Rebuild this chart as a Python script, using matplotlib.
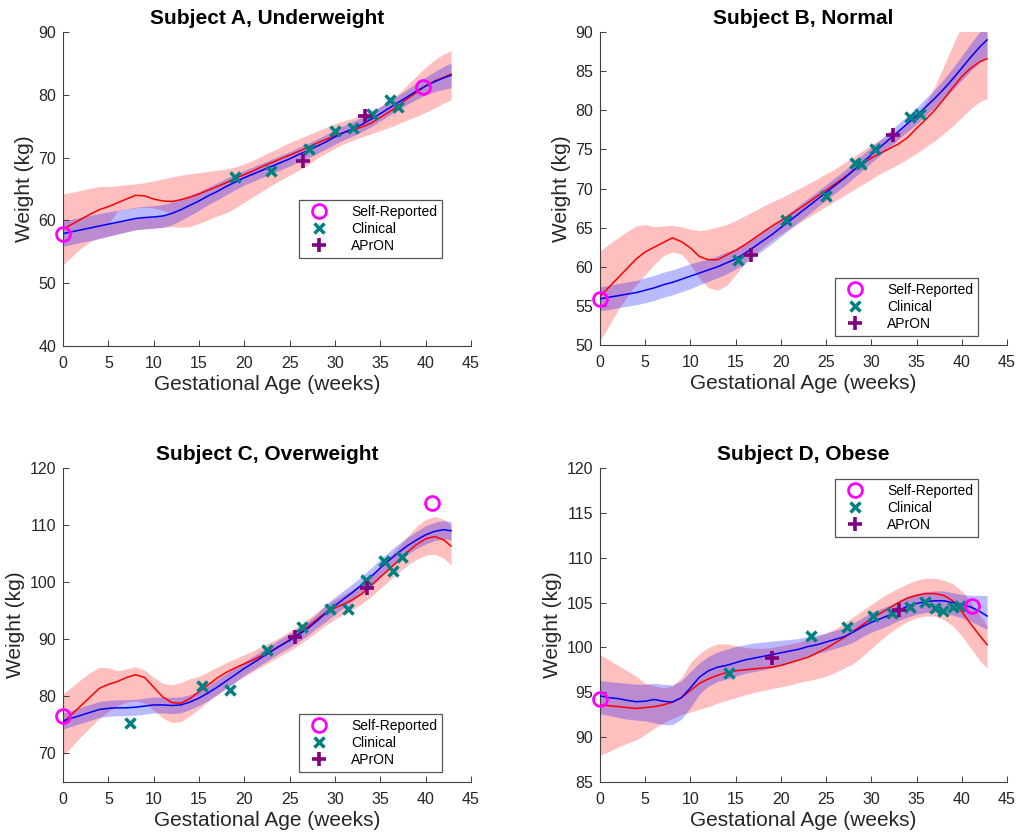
import numpy as np
import matplotlib
matplotlib.use("Agg")
import matplotlib.pyplot as plt

plt.rcParams["font.family"] = ["Liberation Sans", "DejaVu Sans"]

# gestational age grid shared by all fitted curves (weeks)
weeks = list(range(0, 43)) + [42.8]

# ---- Subject A ----
a_red = [58.6, 59.4, 60.2, 61.0, 61.7, 62.2, 62.8, 63.4, 64.0, 63.9, 63.4, 63.1, 63.0, 63.3, 63.7,
         64.2, 64.8, 65.4, 66.0, 66.7, 67.3, 67.9, 68.6, 69.2, 69.8, 70.4, 71.0, 71.6, 72.3, 72.9,
         73.5, 74.0, 74.4, 74.9, 75.5, 76.4, 77.3, 78.3, 79.4, 80.4, 81.4, 82.2, 82.8, 83.3]
a_red_lo = [52.9, 54.3, 55.6, 56.6, 57.2, 57.5, 57.85, 58.2, 58.5, 58.65, 58.75, 58.9, 59.0, 58.9, 59.0,
            59.5, 60.1, 60.7, 61.2, 62.0, 62.9, 63.8, 64.7, 65.6, 66.4, 67.2, 68.0, 68.8, 69.9, 70.7,
            71.5, 72.2, 72.8, 73.3, 73.8, 74.3, 74.8, 75.4, 76.0, 76.6, 77.2, 77.9, 78.7, 79.2]
a_red_hi = [64.2, 64.5, 64.8, 65.1, 65.4, 65.4, 65.5, 65.7, 65.8, 66.0, 66.3, 66.6, 66.9, 67.2, 67.4,
            67.6, 67.8, 68.0, 68.2, 68.5, 69.0, 69.6, 70.3, 71.0, 71.7, 72.4, 73.0, 73.6, 74.2, 74.8,
            75.4, 75.9, 76.3, 76.8, 77.4, 78.1, 79.0, 80.2, 81.6, 83.0, 84.4, 85.6, 86.5, 87.0]
a_blue = [57.9, 58.2, 58.5, 58.8, 59.1, 59.4, 59.7, 60.0, 60.3, 60.45, 60.55, 60.7, 61.1, 61.7, 62.4,
          63.1, 63.9, 64.6, 65.4, 66.1, 66.8, 67.4, 68.0, 68.6, 69.2, 69.8, 70.5, 71.1, 71.8, 72.5,
          73.3, 74.0, 74.6, 75.3, 76.1, 77.0, 77.9, 78.8, 79.7, 80.6, 81.4, 82.1, 82.7, 83.1]
a_blue_lo = [55.9, 56.2, 56.5, 56.8, 57.1, 57.45, 57.8, 58.15, 58.5, 58.65, 58.75, 58.9, 59.3, 60.0, 60.8,
             61.6, 62.5, 63.25, 64.1, 64.9, 65.65, 66.25, 66.85, 67.45, 68.05, 68.65, 69.35, 69.95, 70.65, 71.35,
             72.15, 72.85, 73.45, 74.15, 74.95, 75.85, 76.75, 77.65, 78.5, 79.3, 80.0, 80.5, 80.9, 81.1]
a_blue_hi = [59.9, 60.2, 60.5, 60.8, 61.1, 61.35, 61.6, 61.85, 62.1, 62.25, 62.35, 62.5, 62.9, 63.4, 64.0,
             64.6, 65.3, 65.95, 66.7, 67.3, 67.95, 68.55, 69.15, 69.75, 70.35, 70.95, 71.65, 72.25, 72.95, 73.65,
             74.45, 75.15, 75.75, 76.45, 77.25, 78.15, 79.05, 79.95, 80.9, 81.9, 82.8, 83.7, 84.5, 85.1]
# gap inside the red band of subject A
a_gap_x = [5, 6, 7, 8, 9, 10, 11, 12]
a_gap_lo = [59.4, 59.7, 60.0, 60.3, 60.45, 60.55, 60.7, 61.1]
a_gap_hi = [59.4, 61.5, 61.8, 62.0, 62.1, 62.0, 61.6, 61.1]
a_self_x = [0, 39.7]
a_self_y = [57.8, 81.3]
a_clin_x = [19.0, 22.9, 27.1, 30.0, 32.0, 34.1, 36.1, 37.0]
a_clin_y = [66.9, 67.8, 71.3, 74.3, 74.7, 77.0, 79.2, 78.0]
a_apron_x = [26.5, 33.3]
a_apron_y = [69.5, 76.6]

# ---- Subject B ----
b_red = [56.2, 57.4, 58.6, 59.8, 61.0, 61.9, 62.5, 63.1, 63.7, 63.2, 62.4, 61.3, 60.9, 60.9, 61.5,
         62.1, 62.8, 63.6, 64.4, 65.2, 65.9, 66.6, 67.4, 68.2, 69.0, 69.8, 70.6, 71.4, 72.3, 73.1,
         73.9, 74.5, 75.1, 75.7, 76.5, 77.7, 78.8, 80.0, 81.4, 82.9, 84.3, 85.4, 86.2, 86.6]
b_red_lo = [50.5, 52.5, 54.5, 56.2, 57.7, 59.0, 60.3, 61.4, 61.9, 61.6, 60.3, 58.5, 57.3, 57.0, 57.6,
            59.0, 60.4, 61.5, 62.5, 63.4, 64.2, 64.9, 65.6, 66.3, 67.0, 67.7, 68.4, 69.1, 69.8, 70.5,
            71.2, 71.9, 72.5, 73.1, 73.8, 74.5, 75.3, 76.1, 77.0, 78.0, 79.1, 80.2, 81.1, 81.5]
b_red_hi = [62.0, 62.9, 63.7, 64.5, 65.2, 65.4, 65.1, 65.2, 65.3, 65.1, 64.8, 64.6, 64.8, 65.1, 65.4,
            65.9, 66.5, 67.1, 67.7, 68.3, 68.8, 69.4, 70.0, 70.6, 71.2, 71.9, 72.5, 73.3, 74.0, 74.8,
            75.6, 76.2, 76.8, 77.4, 78.3, 79.4, 80.9, 83.0, 85.6, 88.3, 90.8, 92.5, 93.5, 94.0]
b_blue = [55.9, 56.1, 56.3, 56.5, 56.7, 57.0, 57.3, 57.7, 58.0, 58.4, 58.8, 59.2, 59.6, 60.0, 60.5,
          61.0, 61.7, 62.5, 63.3, 64.1, 65.0, 65.9, 66.8, 67.7, 68.6, 69.5, 70.4, 71.3, 72.3, 73.3,
          74.3, 75.3, 76.3, 77.3, 78.3, 79.3, 80.4, 81.5, 82.7, 84.0, 85.4, 86.8, 88.1, 89.0]
b_blue_lo = [54.4, 54.55, 54.75, 54.95, 55.15, 55.4, 55.7, 56.1, 56.4, 56.8, 57.2, 57.7, 58.15, 58.6, 59.1,
             59.7, 60.45, 61.3, 62.1, 62.95, 63.9, 64.8, 65.75, 66.65, 67.6, 68.5, 69.4, 70.3, 71.3, 72.3,
             73.3, 74.3, 75.3, 76.3, 77.3, 78.25, 79.3, 80.35, 81.45, 82.6, 83.85, 85.05, 86.15, 86.9]
b_blue_hi = [57.4, 57.65, 57.85, 58.05, 58.25, 58.6, 58.9, 59.3, 59.6, 60.0, 60.4, 60.7, 61.05, 61.4, 61.9,
             62.3, 62.95, 63.7, 64.5, 65.25, 66.1, 67.0, 67.85, 68.75, 69.6, 70.5, 71.4, 72.3, 73.3, 74.3,
             75.3, 76.3, 77.3, 78.3, 79.3, 80.35, 81.5, 82.65, 83.95, 85.4, 86.95, 88.55, 90.05, 91.1]
b_self_x = [0]
b_self_y = [55.9]
b_clin_x = [15.3, 20.6, 25.0, 28.2, 28.9, 30.4, 34.3, 35.4]
b_clin_y = [60.8, 66.0, 69.0, 73.2, 73.1, 75.0, 79.1, 79.5]
b_apron_x = [16.7, 32.4]
b_apron_y = [61.5, 76.9]

# ---- Subject C ----
c_red = [75.4, 76.9, 78.4, 79.9, 81.4, 82.1, 82.6, 83.3, 83.8, 83.3, 81.6, 79.9, 78.9, 78.8, 79.6,
         80.8, 82.0, 83.2, 84.2, 85.0, 85.7, 86.4, 87.2, 88.0, 88.9, 89.9, 91.0, 92.2, 93.5, 94.7,
         95.5, 96.2, 97.0, 98.0, 99.4, 100.9, 102.3, 103.8, 105.3, 106.6, 107.6, 108.0, 107.4, 106.3]
c_red_lo = [69.6, 71.3, 73.0, 74.6, 76.1, 77.4, 78.4, 79.0, 79.2, 78.8, 77.6, 76.2, 75.4, 75.6, 76.6,
            77.8, 79.1, 80.3, 81.4, 82.5, 83.5, 84.4, 85.3, 86.2, 87.1, 88.0, 89.0, 90.1, 91.3, 92.5,
            93.5, 94.4, 95.3, 96.3, 97.5, 98.9, 100.3, 101.7, 103.0, 104.0, 104.7, 104.9, 104.2, 103.0]
c_red_hi = [80.4, 81.7, 83.0, 84.2, 85.1, 85.0, 84.5, 84.8, 85.2, 84.6, 83.3, 82.3, 82.0, 82.4, 83.1,
            83.5, 84.3, 85.1, 85.9, 86.6, 87.3, 88.0, 88.8, 89.6, 90.4, 91.4, 92.4, 93.5, 94.8, 96.0,
            97.0, 97.9, 98.8, 99.8, 101.2, 102.9, 104.5, 106.2, 108.0, 109.8, 111.0, 111.5, 111.0, 110.0]
c_blue = [75.7, 76.2, 76.7, 77.2, 77.7, 77.9, 78.0, 78.0, 78.1, 78.3, 78.5, 78.5, 78.4, 78.5, 79.0,
          79.7, 80.6, 81.6, 82.7, 83.8, 84.9, 85.9, 86.9, 87.9, 88.9, 89.8, 90.8, 91.9, 93.2, 94.6,
          95.9, 97.1, 98.3, 99.6, 101.0, 102.5, 103.9, 105.2, 106.4, 107.4, 108.3, 108.9, 109.2, 109.0]
c_blue_lo = [74.3, 74.8, 75.3, 75.8, 76.3, 76.5, 76.6, 76.6, 76.7, 76.9, 77.1, 77.1, 77.0, 77.1, 77.7,
             78.4, 79.3, 80.3, 81.4, 82.5, 83.7, 84.7, 85.7, 86.7, 87.7, 88.6, 89.6, 90.7, 92.0, 93.1,
             94.4, 95.6, 96.8, 98.1, 99.5, 101.0, 102.4, 103.7, 104.9, 105.9, 106.7, 107.3, 107.6, 107.4]
c_blue_hi = [77.1, 77.6, 78.1, 78.6, 79.1, 79.3, 79.4, 79.4, 79.5, 79.7, 79.9, 79.9, 79.8, 79.9, 80.3,
             81.0, 81.9, 82.9, 84.0, 85.1, 86.1, 87.1, 88.1, 89.1, 90.1, 91.0, 92.0, 93.1, 94.4, 96.1,
             97.4, 98.6, 99.8, 101.1, 102.5, 104.0, 105.4, 106.7, 107.9, 108.9, 109.9, 110.5, 110.8, 110.6]
c_self_x = [0, 40.7]
c_self_y = [76.6, 113.8]
c_clin_x = [7.4, 15.3, 18.4, 22.5, 26.4, 29.45, 31.4, 33.4, 35.4, 36.4, 37.4]
c_clin_y = [75.3, 81.8, 81.2, 88.2, 92.2, 95.3, 95.3, 100.3, 103.7, 102.0, 104.4]
c_apron_x = [25.6, 33.5]
c_apron_y = [90.4, 99.0]

# ---- Subject D ----
d_red = [93.6, 93.5, 93.4, 93.3, 93.2, 93.3, 93.4, 93.6, 93.9, 94.4, 95.2, 96.0, 96.5, 96.9, 97.2,
         97.4, 97.5, 97.6, 97.7, 97.8, 98.0, 98.3, 98.6, 98.9, 99.4, 99.9, 100.5, 101.1, 101.8, 102.5,
         103.2, 103.8, 104.4, 105.0, 105.5, 105.8, 106.0, 106.0, 105.8, 105.2, 104.0, 102.6, 101.3, 100.3]
d_red_lo = [88.0, 88.4, 88.9, 89.3, 89.7, 90.3, 91.0, 91.6, 92.1, 92.5, 92.8, 93.1, 93.4, 93.8, 94.1,
            94.4, 94.7, 95.0, 95.2, 95.4, 95.6, 95.8, 96.1, 96.3, 96.5, 96.8, 97.2, 97.7, 98.2, 99.0,
            99.9, 100.8, 101.6, 102.3, 102.9, 103.3, 103.5, 103.5, 103.1, 102.4, 101.3, 99.9, 98.5, 97.7]
d_red_hi = [99.2, 98.6, 98.0, 97.4, 96.8, 96.0, 95.7, 95.5, 95.7, 96.6, 98.3, 99.3, 100.0, 100.4, 100.4,
            100.2, 100.0, 99.9, 99.9, 100.0, 100.2, 100.4, 100.6, 100.9, 101.2, 101.6, 102.1, 102.7, 103.4, 104.1,
            104.8, 105.5, 106.1, 106.6, 107.1, 107.5, 107.7, 107.7, 107.5, 107.1, 106.3, 105.1, 103.6, 102.4]
d_blue = [94.6, 94.4, 94.3, 94.1, 93.95, 94.0, 94.2, 94.0, 93.9, 94.4, 95.5, 96.7, 97.4, 97.8, 98.0,
          98.3, 98.6, 98.8, 99.0, 99.2, 99.4, 99.6, 99.8, 100.1, 100.3, 100.6, 100.9, 101.2, 101.7, 102.3,
          102.8, 103.2, 103.6, 104.1, 104.6, 104.9, 105.1, 105.2, 105.2, 105.0, 104.8, 104.5, 104.0, 103.5]
d_blue_lo = [92.6, 92.4, 92.2, 92.0, 91.9, 91.8, 91.6, 91.4, 91.4, 92.0, 93.3, 94.8, 95.7, 96.2, 96.5,
             96.8, 97.1, 97.3, 97.5, 97.7, 98.0, 98.3, 98.6, 99.0, 99.3, 99.6, 99.9, 100.2, 100.6, 101.2,
             101.7, 102.1, 102.5, 103.0, 103.4, 103.7, 103.9, 103.9, 103.9, 103.6, 103.3, 102.9, 102.4, 102.0]
d_blue_hi = [96.3, 96.2, 96.1, 96.0, 95.9, 95.9, 96.0, 95.9, 95.8, 96.3, 97.3, 98.3, 99.0, 99.5, 99.8,
             100.1, 100.3, 100.5, 100.6, 100.7, 100.8, 100.9, 101.0, 101.2, 101.4, 101.6, 101.9, 102.2, 102.7, 103.3,
             103.9, 104.3, 104.7, 105.2, 105.7, 106.0, 106.2, 106.3, 106.3, 106.1, 105.9, 105.8, 105.8, 105.8]
d_self_x = [0, 41.1]
d_self_y = [94.2, 104.6]
d_clin_x = [14.3, 23.3, 27.3, 30.2, 32.3, 34.3, 35.9, 37.0, 37.9, 39.0, 39.8]
d_clin_y = [97.2, 101.3, 102.3, 103.5, 103.8, 104.5, 105.1, 104.4, 104.1, 104.5, 104.6]
d_apron_x = [19.0, 33.1]
d_apron_y = [98.8, 104.2]

titles = ["Subject A, Underweight", "Subject B, Normal",
          "Subject C, Overweight", "Subject D, Obese"]

# colours
teal = (0.0, 0.5, 0.5)
purple = (0.5, 0.0, 0.5)
axis_col = "#404040"

W, H = 1017, 838
fig = plt.figure(figsize=(W / 100, H / 100), dpi=100)


def px_axes(left, top, right, bottom):
    return fig.add_axes([left / W, 1 - bottom / H, (right - left) / W, (bottom - top) / H])


axA = px_axes(63, 32, 471, 346)
axB = px_axes(600, 32, 1007, 345)
axC = px_axes(63, 468, 471, 782)
axD = px_axes(600, 468, 1007, 782)

panels = [
    (axA, a_red, a_red_lo, a_red_hi, a_blue, a_blue_lo, a_blue_hi,
     a_self_x, a_self_y, a_clin_x, a_clin_y, a_apron_x, a_apron_y,
     (40, 90), np.arange(40, 91, 10), (0.929, 0.465)),
    (axB, b_red, b_red_lo, b_red_hi, b_blue, b_blue_lo, b_blue_hi,
     b_self_x, b_self_y, b_clin_x, b_clin_y, b_apron_x, b_apron_y,
     (50, 90), np.arange(50, 91, 5), (0.929, 0.214)),
    (axC, c_red, c_red_lo, c_red_hi, c_blue, c_blue_lo, c_blue_hi,
     c_self_x, c_self_y, c_clin_x, c_clin_y, c_apron_x, c_apron_y,
     (65, 120), np.arange(70, 121, 10), (0.929, 0.217)),
    (axD, d_red, d_red_lo, d_red_hi, d_blue, d_blue_lo, d_blue_hi,
     d_self_x, d_self_y, d_clin_x, d_clin_y, d_apron_x, d_apron_y,
     (85, 120), np.arange(85, 121, 5), (0.929, 0.965)),
]

for i, (ax, red, red_lo, red_hi, blue, blue_lo, blue_hi,
        sx, sy, cx, cy, apx, apy, ylim, yticks, leg_pos) in enumerate(panels):
    # confidence bands
    ax.fill_between(weeks, red_lo, red_hi, color=(1, 0, 0), alpha=0.25, lw=0, zorder=1)
    if i == 0:
        ax.fill_between(a_gap_x, a_gap_lo, a_gap_hi, color="white", lw=0, zorder=1.5)
    ax.fill_between(weeks, blue_lo, blue_hi, color=(0, 0, 1), alpha=0.27, lw=0, zorder=2)
    # fitted curves
    ax.plot(weeks, red, color="red", lw=1.1, zorder=3)
    ax.plot(weeks, blue, color="blue", lw=1.1, zorder=4)
    # observations
    ax.plot(sx, sy, "o", ms=10, mfc="none", mec="magenta", mew=2.0,
            label="Self-Reported", clip_on=False, zorder=6)
    ax.plot(cx, cy, "x", ms=7.5, color=teal, mew=2.5, label="Clinical",
            clip_on=False, zorder=5)
    ax.plot(apx, apy, "+", ms=10, color=purple, mew=2.6, label="APrON",
            clip_on=False, zorder=5)

    ax.set_xlim(0, 45)
    ax.set_ylim(*ylim)
    ax.set_xticks(np.arange(0, 46, 5))
    ax.set_yticks(yticks)
    ax.set_title(titles[i], fontsize=15, fontweight="bold", pad=6)
    ax.set_xlabel("Gestational Age (weeks)", fontsize=15, color="#262626", labelpad=3)
    ax.set_ylabel("Weight (kg)", fontsize=15, color="#262626", labelpad=3)

    for s in ["top", "right"]:
        ax.spines[s].set_visible(False)
    for s in ["left", "bottom"]:
        ax.spines[s].set_color(axis_col)
        ax.spines[s].set_linewidth(0.8)
    ax.tick_params(direction="in", length=4, width=0.7, color=axis_col,
                   labelsize=11.5, labelcolor="#262626")
    ax.tick_params(axis="x", pad=7)
    ax.tick_params(axis="y", pad=5)

    leg = ax.legend(loc="upper right", bbox_to_anchor=leg_pos, fontsize=10,
                    fancybox=False, framealpha=1, edgecolor="#555555",
                    handlelength=2.2, handletextpad=1.2, labelspacing=0.22,
                    borderpad=0.35, borderaxespad=0)
    leg.get_frame().set_linewidth(0.9)

fig.savefig("out.png", dpi=100)
